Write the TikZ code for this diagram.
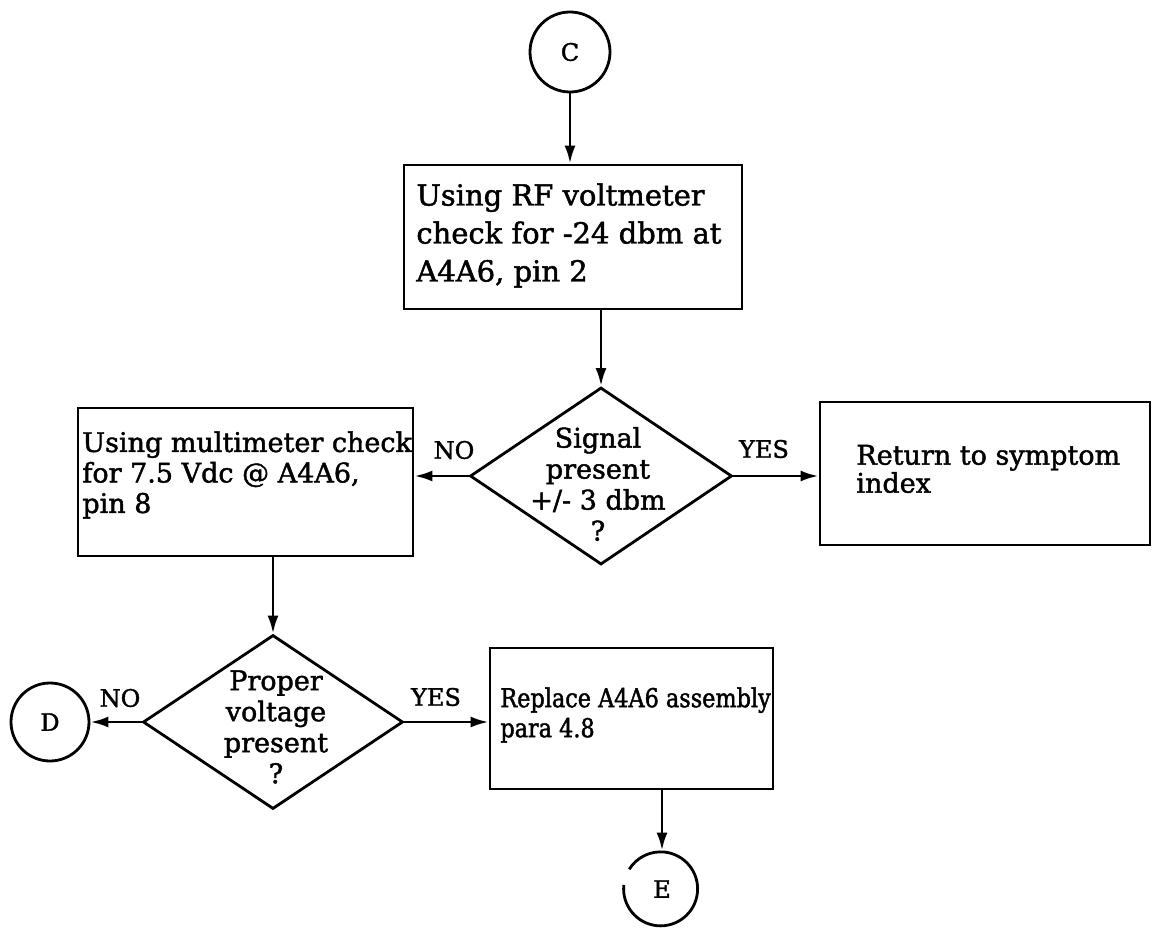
\documentclass[tikz,border=0pt]{standalone}
\usepackage{fontspec}
\setmainfont{DejaVu Serif}[FakeBold=1.6]
\newfontfamily\narrowfont{DejaVu Serif}[FakeBold=1.6,FakeStretch=0.86]
\usetikzlibrary{shapes.geometric,arrows.meta}
\begin{document}
\begin{tikzpicture}[x=1pt,y=-1pt,
  line width=2.8pt,
  box/.style={draw, rectangle, inner sep=0pt, line width=2.8pt},
  dia/.style={draw, diamond, inner sep=0pt, line width=2.8pt},
  conn/.style={draw, circle, inner sep=0pt, line width=2.8pt, font=\fontsize{24}{28}\selectfont},
  txt/.style={inner sep=0pt, align=left, anchor=west, font=\fontsize{27}{30.5}\selectfont},
  dtxt/.style={inner sep=0pt, align=center, font=\fontsize{27}{31}\selectfont},
  lab/.style={inner sep=0pt, font=\fontsize{24}{28}\selectfont},
  arr/.style={-{Latex[length=18pt,width=11pt]}, line width=2.8pt}
]
\useasboundingbox (0,0) rectangle (1152,933);

% connectors (circles)
\node[conn, minimum size=80pt] (C) at (570,52) {C};
\node[conn, minimum size=78pt] (D) at (50,722) {D};
\node[circle, inner sep=0pt, minimum size=74pt, font=\fontsize{24}{28}\selectfont] (E) at (662,889) {E};
\draw (E.174) arc[start angle=174, end angle=508, radius=37pt];

% boxes
\node[box, minimum width=338pt, minimum height=144pt] (b1) at (573,237) {};
\node[box, minimum width=335pt, minimum height=148pt] (b2) at (245.5,482) {};
\node[box, minimum width=330pt, minimum height=143pt] (b3) at (985,473.5) {};
\node[box, minimum width=283pt, minimum height=141pt] (b4) at (631.5,718.5) {};

% box texts
\node[txt, font=\fontsize{29}{38}\selectfont] (t1) at (415,235.5) {Using RF voltmeter\\check for -24 dbm at\\A4A6, pin 2};
\node[txt] (t2) at (81,475) {Using multimeter check\\for 7.5 Vdc @ A4A6,\\pin 8};
\node[txt, font=\fontsize{27}{28}\selectfont] (t3) at (855,469) {Return to symptom\\index};
\node[txt, font=\narrowfont\fontsize{26}{30}\selectfont] (t4) at (499,715) {Replace A4A6 assembly\\para 4.8};

% diamonds
\node[dia, minimum width=262pt, minimum height=177pt] (d1) at (601,476) {};
\node[dia, minimum width=260pt, minimum height=174pt] (d2) at (273,722) {};
\node[dtxt] (dt1) at (598,484) {Signal\\present\\+/- 3 dbm\\?};
\node[dtxt] (dt2) at (276,727) {Proper\\voltage\\present\\?};

% labels
\node[lab] (no1) at (454,450) {NO};
\node[lab] (yes1) at (764,449) {YES};
\node[lab] (no2) at (120,698) {NO};
\node[lab] (yes2) at (436,697) {YES};

% connectors
\draw[arr] (C.south) -- (C.south |- b1.north);
\draw[arr] (d1.north |- b1.south) -- (d1.north);
\draw[arr] (d1.west) -- (d1.west -| b2.east);
\draw[arr] (d1.east) -- (d1.east -| b3.west);
\draw[arr] (d2.north |- b2.south) -- (d2.north);
\draw[arr] (d2.west) -- (d2.west -| D.east);
\draw[arr] (d2.east) -- (d2.east -| b4.west);
\draw[arr] (E.north |- b4.south) -- (E.north);
\end{tikzpicture}
\end{document}
